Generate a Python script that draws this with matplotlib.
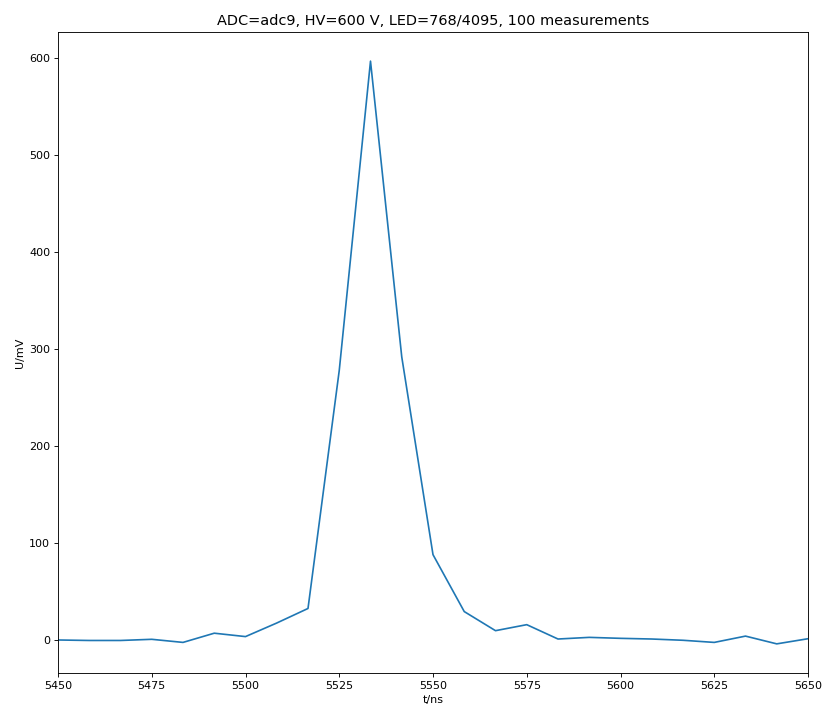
import matplotlib
matplotlib.use("Agg")
import matplotlib.pyplot as plt
import numpy as np

t_start = 5450.0
t_step = 200.0 / 24
voltage_mV = [0.0, -0.5, -0.5, 0.7, -2.5, 7.0, 3.5, 17.5, 32.5, 278.0, 597.0,
              292.0, 88.0, 29.3, 9.6, 15.8, 1.0, 2.7, 1.7, 1.0, -0.3, -2.5,
              4.0, -4.0, 1.3]
time_ns = [t_start + i * t_step for i in range(len(voltage_mV))]

W, H, DPI = 822, 706, 80
fig = plt.figure(figsize=(W / DPI, H / DPI), dpi=DPI)
ax = fig.add_axes([58 / W, 1 - 673 / H, 750 / W, 641 / H])
ax.plot(time_ns, voltage_mV, color="#1f77b4")
ax.set_xlim(5450, 5650)
ax.set_xlabel("t/ns")
ax.set_ylabel("U/mV")
ax.set_title("ADC=adc9, HV=600 V, LED=768/4095, 100 measurements", fontsize=13)
fig.savefig("out.png", dpi=DPI)
